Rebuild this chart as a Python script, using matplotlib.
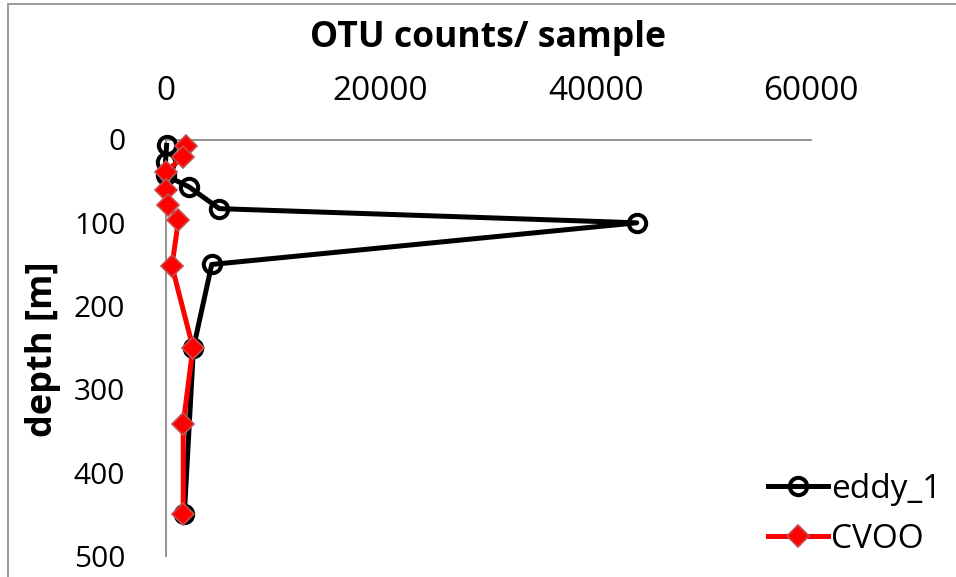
import matplotlib
matplotlib.use("Agg")
import matplotlib.pyplot as plt
from matplotlib.patches import Rectangle

# Data
eddy_depth = [7, 27, 43, 57, 83, 100, 150, 250, 450]
eddy_counts = [100, 0, 0, 2200, 5000, 43800, 4300, 2600, 1750]
cvoo_depth = [8, 21, 39, 61, 79, 97, 152, 250, 341, 450]
cvoo_counts = [1950, 1650, 0, 0, 260, 1200, 600, 2550, 1650, 1650]
x_ticks = [0, 20000, 40000, 60000]
y_ticks = [0, 100, 200, 300, 400, 500]
series_names = ["eddy_1", "CVOO"]

plt.rcParams['font.family'] = ['Open Sans', 'DejaVu Sans']

W, H = 956, 577
fig = plt.figure(figsize=(W / 100, H / 100), dpi=100)

# outer chart border
fig.patches.append(Rectangle((8 / W, -0.05), 1.2, 1 - 3.5 / H + 0.05,
                             transform=fig.transFigure, fill=False,
                             edgecolor='#898989', linewidth=1.2))

left, right, top, bottom = 165.5, 811, 139.5, 556
ax = fig.add_axes([left / W, 1 - bottom / H, (right - left) / W, (bottom - top) / H])

ax.plot(eddy_counts, eddy_depth, color='black', linewidth=3.6, marker='o',
        markersize=12.5, markerfacecolor='none', markeredgecolor='black',
        markeredgewidth=2.9, clip_on=False, label=series_names[0], zorder=3)
ax.plot(cvoo_counts, cvoo_depth, color='#ff0000', linewidth=3.6, marker='D',
        markersize=11.5, markerfacecolor='#ff0000', markeredgecolor='#c0504d',
        markeredgewidth=1.2, clip_on=False, label=series_names[1], zorder=4)

ax.set_xlim(0, 60000)
ax.set_ylim(500, 0)
ax.set_xticks(x_ticks)
ax.set_yticks(y_ticks)
ax.xaxis.tick_top()
ax.tick_params(axis='both', length=0, colors='black')
ax.tick_params(axis='x', pad=23, labelsize=24)
ax.tick_params(axis='y', pad=29, labelsize=21.5)

for s in ['right', 'bottom']:
    ax.spines[s].set_visible(False)
for s in ['top', 'left']:
    ax.spines[s].set_color('#898989')
    ax.spines[s].set_linewidth(1.3)

fig.text((left + right) / 2 / W, 1 - 38 / H, 'OTU counts/ sample', ha='center',
         va='center', fontsize=25.6, fontweight='bold')
fig.text(43 / W, 1 - 349 / H, 'depth [m]', ha='center', va='center',
         rotation=90, fontsize=26, fontweight='bold')

leg = ax.legend(loc='upper left', bbox_to_anchor=(768 / W, 1 - 473 / H),
                bbox_transform=fig.transFigure, frameon=False, fontsize=24,
                handlelength=1.8, handletextpad=0.1, borderpad=0,
                borderaxespad=0, labelspacing=0.5)

fig.savefig('out.png', dpi=100)
